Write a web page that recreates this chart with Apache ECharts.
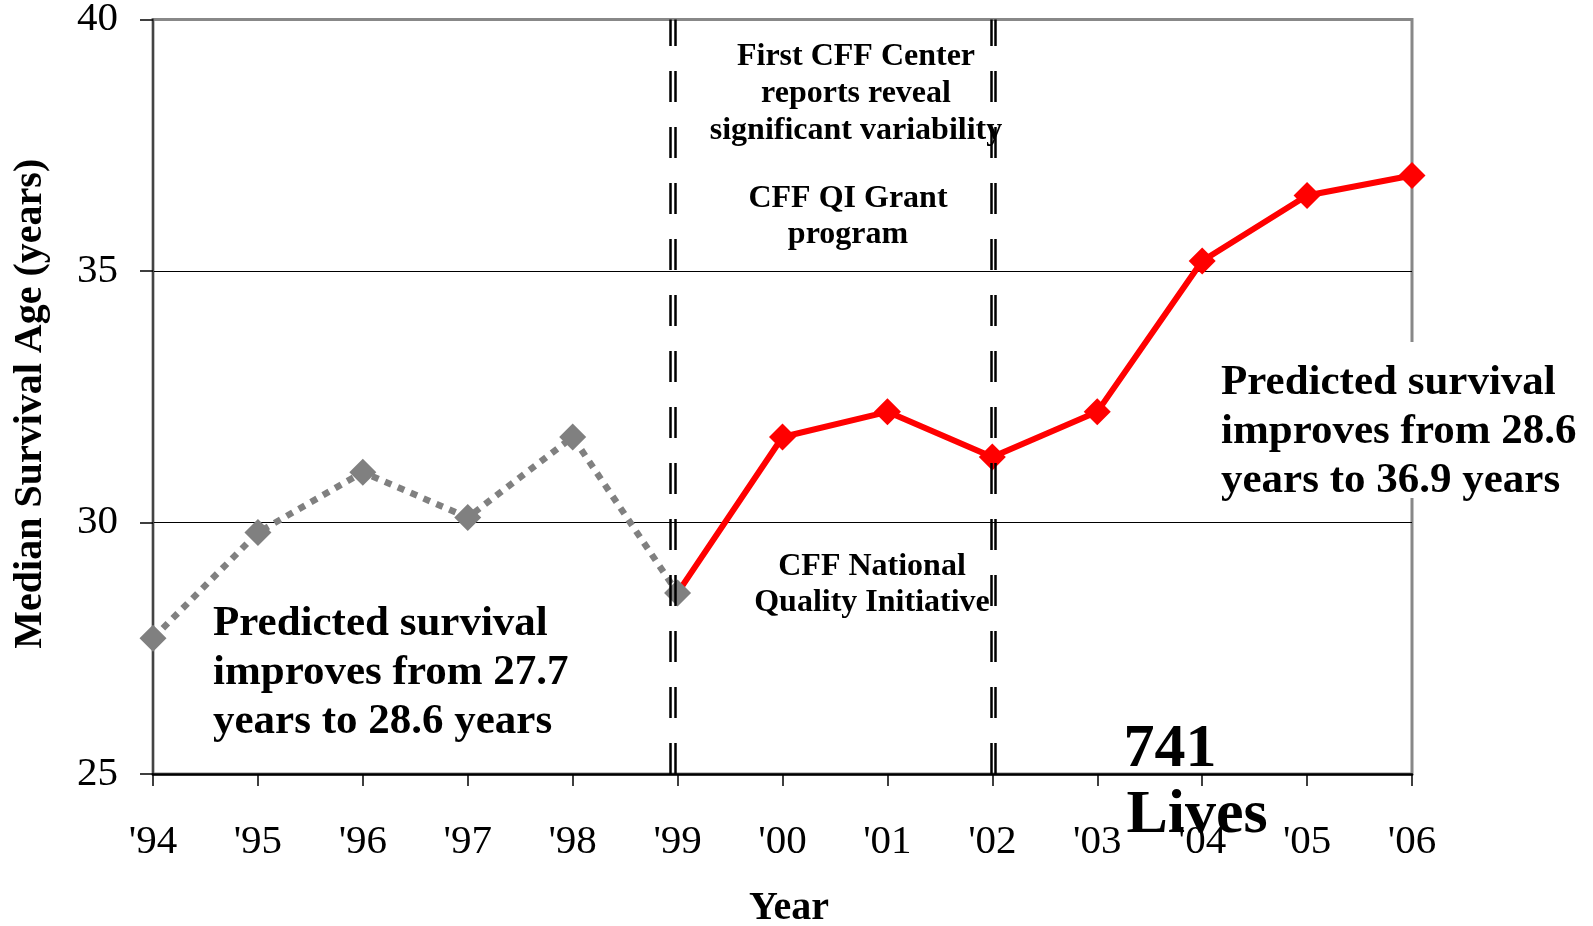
<!DOCTYPE html>
<html>
<head>
<meta charset="utf-8">
<title>Median Survival Age</title>
<script src="https://cdn.jsdelivr.net/npm/echarts@6/dist/echarts.min.js"></script>
<style>
  html, body { margin: 0; padding: 0; background: #fff; }
  #char { width: 1593px; height: 926px; }
</style>
</head>
<body>
<div id="char"></div>
<script>
const yearLabels = ["'94", "'95", "'96", "'97", "'98", "'99", "'00", "'01", "'02", "'03", "'04", "'05", "'06"]
// '94 - '99, before the QI work
const beforeValues = [27.7, 29.8, 31.0, 30.1, 31.7, 28.6]
// '99 - '06
const afterValues = [28.6, 31.7, 32.2, 31.3, 32.2, 35.2, 36.5, 36.9]
const yTicks = [25, 30, 35, 40]
const markYears = [5, 8]

const serif = '"Liberation Serif", "Times New Roman", serif'

let chart = echarts.init(document.getElementById('char'))

let beforeData = beforeValues.map((v, i) => [i, v])
let afterData = afterValues.map((v, i) => {
  if (i === 0) return { value: [i + 5, v], symbol: 'none' }
  return [i + 5, v]
})

let option = {
  animation: false,
  textStyle: { fontFamily: serif, color: '#000' },
  grid: {
    left: 153,
    right: 181,
    top: 19.5,
    bottom: 152,
    outerBoundsMode: 'none',
    show: true,
    borderColor: '#888',
    borderWidth: 3
  },
  xAxis: {
    type: 'value',
    min: 0,
    max: yearLabels.length - 1,
    interval: 1,
    name: 'Year',
    nameLocation: 'middle',
    nameGap: 115,
    nameTextStyle: { fontSize: 40, fontWeight: 'bold', fontFamily: serif, color: '#000', padding: [0, 0, 0, 13] },
    axisLine: { lineStyle: { color: '#000', width: 2.5 } },
    axisTick: { show: true, length: 12, lineStyle: { color: '#000', width: 1.5 } },
    axisLabel: {
      margin: 48,
      fontSize: 41,
      fontFamily: serif,
      color: '#000',
      formatter: (val) => yearLabels[val] || ''
    },
    splitLine: { show: false }
  },
  yAxis: {
    type: 'value',
    min: yTicks[0],
    max: yTicks[yTicks.length - 1],
    interval: 5,
    name: 'Median Survival Age (years)',
    nameLocation: 'middle',
    nameGap: 102,
    nameTextStyle: { fontSize: 40, fontWeight: 'bold', fontFamily: serif, color: '#000', padding: [0, 14, 0, 0] },
    axisLine: { show: true, lineStyle: { color: '#444', width: 2 } },
    axisTick: { show: true, length: 13, lineStyle: { color: '#000', width: 1.5 } },
    axisLabel: { margin: 35, fontSize: 41, fontFamily: serif, color: '#000' },
    splitLine: { show: true, showMaxLine: false, lineStyle: { color: '#000', width: 1.2 } }
  },
  series: [
    {
      type: 'line',
      data: beforeData,
      symbol: 'diamond',
      symbolSize: 27,
      itemStyle: { color: '#808080' },
      lineStyle: { color: '#808080', width: 6.5, type: [7, 7] },
      markLine: {
        silent: true,
        symbol: 'none',
        label: { show: false },
        lineStyle: { color: '#000', width: 2.5, type: [31, 25] },
        data: [
          { xAxis: markYears[0] - 0.065 },
          { xAxis: markYears[0] - 0.017 },
          { xAxis: markYears[1] - 0.006 },
          { xAxis: markYears[1] + 0.034 }
        ]
      }
    },
    {
      type: 'line',
      data: afterData,
      symbol: 'diamond',
      symbolSize: 27,
      itemStyle: { color: '#ff0000' },
      lineStyle: { color: '#ff0000', width: 6 }
    }
  ],
  graphic: [
    {
      type: 'text', z: 100, x: 856, y: 94,
      style: {
        text: 'First CFF Center\nreports reveal\nsignificant variability',
        font: 'bold 32px ' + serif, lineHeight: 37, fill: '#000',
        align: 'center', verticalAlign: 'middle'
      }
    },
    {
      type: 'text', z: 100, x: 848, y: 217,
      style: {
        text: 'CFF QI Grant\nprogram',
        font: 'bold 32px ' + serif, lineHeight: 36, fill: '#000',
        align: 'center', verticalAlign: 'middle'
      }
    },
    {
      type: 'text', z: 100, x: 872, y: 585,
      style: {
        text: 'CFF National\nQuality Initiative',
        font: 'bold 32px ' + serif, lineHeight: 36, fill: '#000',
        align: 'center', verticalAlign: 'middle'
      }
    },
    {
      type: 'text', z: 100, x: 213, y: 673,
      style: {
        text: 'Predicted survival\nimproves from 27.7\nyears to 28.6 years',
        font: 'bold 43px ' + serif, lineHeight: 49, fill: '#000',
        align: 'left', verticalAlign: 'middle'
      }
    },
    {
      // white patch that hides the right border behind the note
      type: 'rect', z: 99,
      shape: { x: 1208, y: 342, width: 385, height: 156 },
      style: { fill: '#fff' }
    },
    {
      type: 'text', z: 100, x: 1221, y: 432,
      style: {
        text: 'Predicted survival\nimproves from 28.6\nyears to 36.9 years',
        font: 'bold 43px ' + serif, lineHeight: 49, fill: '#000',
        align: 'left', verticalAlign: 'middle'
      }
    },
    {
      type: 'text', z: 100, x: 1170, y: 750,
      style: {
        text: '741', font: 'bold 62px ' + serif, fill: '#000',
        align: 'center', verticalAlign: 'middle'
      }
    },
    {
      type: 'text', z: 100, x: 1197, y: 816,
      style: {
        text: 'Lives', font: 'bold 62px ' + serif, fill: '#000',
        align: 'center', verticalAlign: 'middle'
      }
    }
  ]
}

chart.setOption(option)
</script>
</body>
</html>
